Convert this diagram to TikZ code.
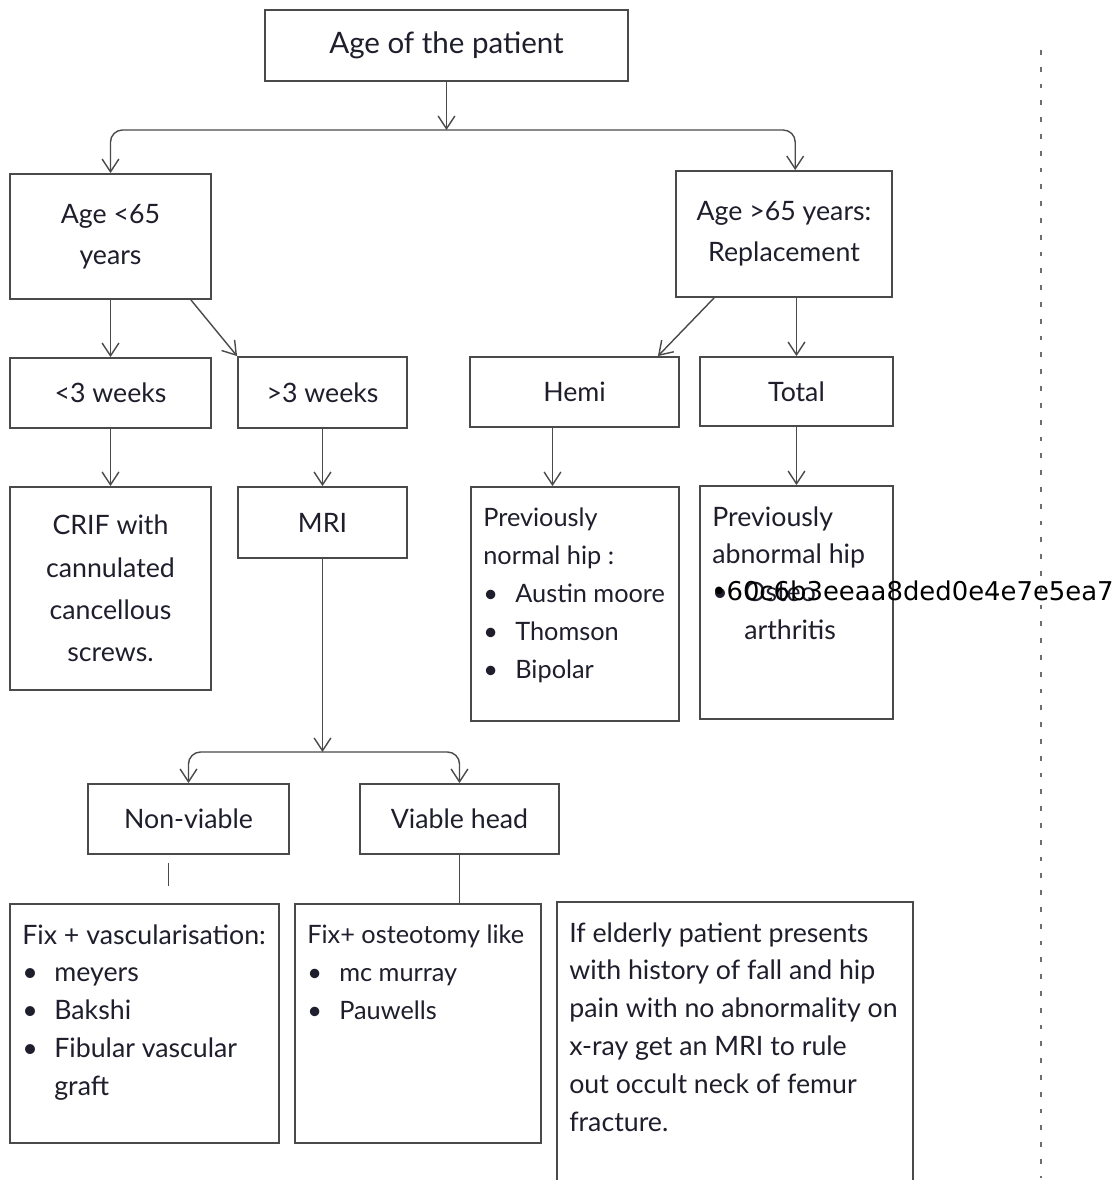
\documentclass[tikz,border=0pt]{standalone}
\usepackage{fontspec}
\setmainfont{Lato}
\newfontfamily\stampfont{DejaVu Sans}
\usepackage{tikz}
\usetikzlibrary{arrows.meta,positioning,calc}
\definecolor{ink}{HTML}{1E1E2C}
\definecolor{frame}{HTML}{4A4A4A}
\newcommand{\bulletitem}{\makebox[0.8cm][l]{\textbullet}}

\begin{document}
\begin{tikzpicture}[x=0.025cm,y=-0.025cm,>={Straight Barb[length=0.32cm,width=0.42cm]},font=\fontsize{19}{27}\selectfont,text=ink]
    \tikzset{
        box/.style={draw=frame,line width=1.3pt,align=center,inner sep=0pt},
        listtext/.style={anchor=north west,align=left,inner sep=0pt},
        link/.style={draw=frame,line width=1pt},
        stamp/.style={anchor=base west,inner sep=0pt,text=black,font=\stampfont\fontsize{18.4}{20}\selectfont}
    }
    % page
    \fill[white] (0,0) rectangle (1117,1180);
    \clip (0,0) rectangle (1117,1180);
    \draw[frame!80,line width=0.8pt,dash pattern=on 0.12cm off 0.3cm] (1041,50) -- (1041,1178);
    % top level
    \node[box,minimum width=9.075cm,minimum height=1.775cm,font=\fontsize{21}{27}\selectfont] (age) at (446.5,45.5) {Age of the patient};
    \coordinate (split1) at (446.5,130);
    % age groups
    \node[box,minimum width=5.025cm,minimum height=3.125cm,font=\fontsize{19}{29}\selectfont] (young) at (110.5,236.5) {Age <65\\years};
    \node[box,minimum width=5.4cm,minimum height=3.15cm,font=\fontsize{19}{29}\selectfont] (old) at (784,234) {Age >65 years:\\Replacement};
    % second row
    \node[box,minimum width=5.025cm,minimum height=1.75cm] (early) at (110.5,393) {<3 weeks};
    \node[box,minimum width=4.225cm,minimum height=1.775cm] (late) at (322.5,392.5) {>3 weeks};
    \node[box,minimum width=5.225cm,minimum height=1.75cm] (hemi) at (574.5,392) {Hemi};
    \node[box,minimum width=4.825cm,minimum height=1.725cm] (total) at (796.5,391.5) {Total};
    % third row
    \node[box,minimum width=5.025cm,minimum height=5.075cm,font=\fontsize{19}{30}\selectfont] (crif) at (110.5,588.5) {CRIF with\\cannulated\\cancellous\\screws.};
    \node[box,minimum width=4.225cm,minimum height=1.775cm] (mri) at (322.5,522.5) {MRI};
    \node[box,minimum width=5.2cm,minimum height=5.85cm] (normal) at (575,604) {};
    \node[listtext,font=\fontsize{18}{27}\selectfont] (normaltxt) at ([shift={(13,22)}]normal.north west) {Previously\\normal hip :\\\bulletitem Austin moore\\\bulletitem Thomson\\\bulletitem Bipolar};
    \node[box,minimum width=4.825cm,minimum height=5.825cm] (abnormal) at (796.5,602.5) {};
    \node[listtext] (abnormaltxt) at ([shift={(13,21)}]abnormal.north west) {Previously\\abnormal hip\\\bulletitem Osteo\\\hspace*{0.8cm}arthritis};
    \node[stamp] (hash) at (711,600) {•60c6b3eeaa8ded0e4e7e5ea7};
    % head viability
    \coordinate (split2) at (322.5,752);
    \node[box,minimum width=5.025cm,minimum height=1.75cm] (nonviable) at (188.5,819) {Non-viable};
    \node[box,minimum width=4.975cm,minimum height=1.75cm] (viable) at (459.5,819) {Viable head};
    % bottom row
    \node[box,minimum width=6.725cm,minimum height=5.975cm] (fixvasc) at (144.5,1023.5) {};
    \node[listtext] (fixvasctxt) at ([shift={(13,21)}]fixvasc.north west) {Fix + vascularisation:\\\bulletitem meyers\\\bulletitem Bakshi\\\bulletitem Fibular vascular\\\hspace*{0.8cm}graft};
    \node[box,minimum width=6.15cm,minimum height=5.975cm] (fixost) at (418,1023.5) {};
    \node[listtext,font=\fontsize{18}{27}\selectfont] (fixosttxt) at ([shift={(13,22)}]fixost.north west) {Fix+ osteotomy like\\\bulletitem mc murray\\\bulletitem Pauwells};
    \node[box,minimum width=8.9cm,minimum height=7.45cm] (elderly) at (735,1051) {};
    \node[listtext] (elderlytxt) at ([shift={(13,21)}]elderly.north west) {If elderly patient presents\\with history of fall and hip\\pain with no abnormality on\\x-ray get an MRI to rule\\out occult neck of femur\\fracture.};
    % connectors
    \draw[link,->] (age) -- (split1);
    \draw[link,<->,rounded corners=0.3cm] (young.north) |- (split1) -| ([xshift=0.28cm]old.north);
    \draw[link,->] (young.south) -- (early.north);
    \draw[link,->] ([xshift=-0.525cm]young.south east) -- (late.north west);
    \draw[link,->] ([xshift=0.975cm]old.south west) -- ([xshift=-0.55cm]hemi.north east);
    \draw[link,->] (old.south -| total.north) -- (total.north);
    \draw[link,->] (early) -- (crif);
    \draw[link,->] (late) -- (mri);
    \draw[link,->] ([xshift=-0.55cm]hemi.south) -- ([xshift=-0.55cm]hemi.south |- normal.north);
    \draw[link,->] (total) -- (abnormal);
    \draw[link,->] (mri) -- (split2);
    \draw[link,<->,rounded corners=0.3cm] (nonviable.north) |- (split2) -| (viable.north);
    \coordinate (stubtop) at ([xshift=-0.5cm,yshift=-0.2cm]nonviable.south);
    \coordinate (stubend) at ([xshift=-0.5cm,yshift=-0.78cm]nonviable.south);
    \draw[link] (stubtop) -- (stubend);
    \draw[link] (viable.south) -- (viable.south |- fixost.north);
\end{tikzpicture}
\end{document}
